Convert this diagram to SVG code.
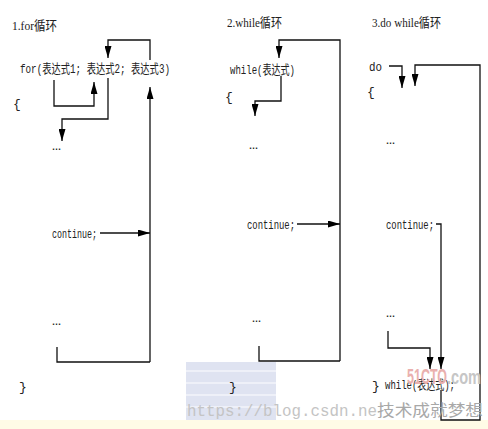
<svg xmlns="http://www.w3.org/2000/svg" width="488" height="429" viewBox="0 0 488 429">
<defs>
<marker id="ah" markerUnits="userSpaceOnUse" markerWidth="12" markerHeight="7" refX="12" refY="3.5" orient="auto">
<path d="M0,0 L12,3.5 L0,7 z" fill="#000"/>
</marker>
<style>
.t{font-family:"Liberation Mono","Noto Sans CJK SC",monospace;font-size:13px;fill:#222}
.h{font-family:"Liberation Serif","Noto Sans CJK SC",serif;font-size:13px;fill:#222}
.c{fill:none;stroke:#111;stroke-width:1.3}
.a{fill:none;stroke:#111;stroke-width:1.3;marker-end:url(#ah)}
.wm{font-family:"Liberation Mono",monospace;font-size:17px;fill:#c4c4c4}
</style>
</defs>
<rect width="488" height="429" fill="#fff"/>
<g id="watermark-bg">
<rect x="186" y="362" width="90" height="58" fill="#dfe3f1"/>
<rect x="186" y="370" width="90" height="2" fill="#eef0f8"/>
<rect x="186" y="382" width="90" height="2" fill="#eef0f8"/>
<rect x="186" y="394" width="90" height="2" fill="#eef0f8"/>
<rect x="186" y="406" width="90" height="2" fill="#eef0f8"/>
<rect x="0" y="420" width="488" height="9" fill="#fffbe6"/>
</g>
<g id="panel1">
<text class="h" x="12" y="30" textLength="45" lengthAdjust="spacingAndGlyphs">1.for循环</text>
<text class="t" x="20" y="73" textLength="150" lengthAdjust="spacingAndGlyphs">for(表达式1; 表达式2; 表达式3)</text>
<text class="t" x="13" y="108">{</text>
<text class="t" x="52" y="150" textLength="9" lengthAdjust="spacingAndGlyphs">…</text>
<text class="t" x="52" y="238" textLength="45" lengthAdjust="spacingAndGlyphs">continue;</text>
<text class="t" x="52" y="325" textLength="9" lengthAdjust="spacingAndGlyphs">…</text>
<text class="t" x="19" y="391">}</text>
</g>
<g id="panel2">
<text class="h" x="227" y="27" textLength="55" lengthAdjust="spacingAndGlyphs">2.while循环</text>
<text class="t" x="230" y="74" textLength="65" lengthAdjust="spacingAndGlyphs">while(表达式)</text>
<text class="t" x="225" y="101">{</text>
<text class="t" x="249" y="149" textLength="9" lengthAdjust="spacingAndGlyphs">…</text>
<text class="t" x="247" y="229" textLength="48" lengthAdjust="spacingAndGlyphs">continue;</text>
<text class="t" x="252" y="322" textLength="9" lengthAdjust="spacingAndGlyphs">…</text>
<text class="t" x="229" y="391">}</text>
</g>
<g id="panel3">
<text class="h" x="372" y="27" textLength="69" lengthAdjust="spacingAndGlyphs">3.do while循环</text>
<text class="t" x="369" y="71" textLength="13" lengthAdjust="spacingAndGlyphs">do</text>
<text class="t" x="367" y="96">{</text>
<text class="t" x="386" y="144" textLength="9" lengthAdjust="spacingAndGlyphs">…</text>
<text class="t" x="386" y="229" textLength="48" lengthAdjust="spacingAndGlyphs">continue;</text>
<text class="t" x="386" y="317" textLength="9" lengthAdjust="spacingAndGlyphs">…</text>
<text class="t" x="372" y="390">}</text>
<text class="t" x="385" y="389" textLength="70" lengthAdjust="spacingAndGlyphs">while(表达式);</text>
</g>
<g id="connectors">
<path class="a" d="M150,60 V40 H108 V58"/>
<path class="a" d="M54,80 V106 H94 V82"/>
<path class="a" d="M108,78 V119 H62 V141"/>
<path class="a" d="M150,362 V87"/>
<path class="a" d="M100,233 H150"/>
<path class="c" d="M57,347 V362 H150"/>
<path class="a" d="M340,361 V40 H279 V58"/>
<path class="a" d="M281,76 V101 H255 V116"/>
<path class="a" d="M297,224 H340"/>
<path class="c" d="M259,346 V361 H340"/>
<path class="a" d="M389,66 H402 V88"/>
<path class="a" d="M441,390 V420 H480 V65 H415 V86"/>
<path class="a" d="M436,224 H441 V369"/>
<path class="a" d="M388,331 V348 H430 V369"/>
</g>
<g id="watermark-text">
<text x="407" y="384" font-family="Liberation Sans Narrow,Liberation Sans,sans-serif" font-weight="bold" font-size="22" fill="#eab0ae" textLength="40" lengthAdjust="spacingAndGlyphs">51CTO</text>
<text x="447" y="384" font-family="Liberation Sans Narrow,Liberation Sans,sans-serif" font-weight="bold" font-size="20" fill="#c6c6c6" textLength="34" lengthAdjust="spacingAndGlyphs">.com</text>
<text class="wm" x="187" y="416" textLength="190" lengthAdjust="spacingAndGlyphs">https://blog.csdn.ne</text>
<text x="377" y="416" font-family="Noto Sans CJK SC,sans-serif" font-size="16" fill="#a8a8a8" textLength="106" lengthAdjust="spacingAndGlyphs">技术成就梦想</text>
</g>
</svg>
